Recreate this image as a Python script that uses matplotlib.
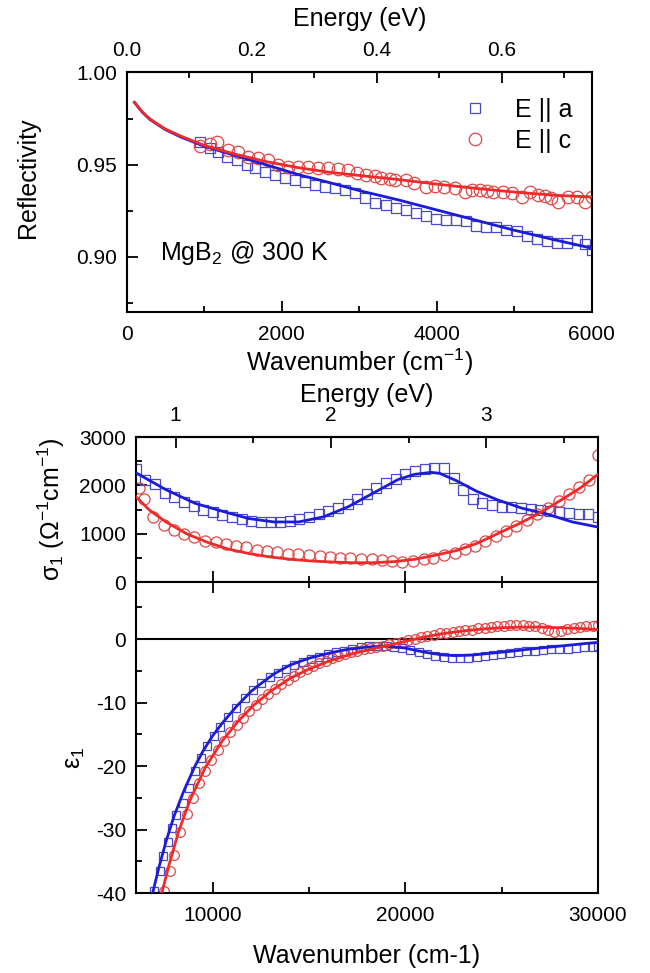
import matplotlib
matplotlib.use("Agg")
import matplotlib.pyplot as plt
from matplotlib.ticker import MultipleLocator, FormatStrFormatter

plt.rcParams.update({
    "font.family": "Liberation Sans",
    "mathtext.fontset": "custom",
    "mathtext.rm": "Liberation Sans",
    "mathtext.it": "Liberation Sans",
    "mathtext.sf": "Liberation Sans",
    "mathtext.bf": "Liberation Sans:bold",
    "axes.unicode_minus": False,
})

CM_PER_EV = 8065.54

# ---- reflectivity, 300 K ----
refl_fit_w_a = [100, 200, 300, 500, 700, 1000, 1400, 1800, 2200, 2600, 3000, 3500,
                4000, 4500, 5000, 5500, 6000]
refl_fit_a = [0.9838, 0.9785, 0.9745, 0.9690, 0.9650, 0.9600, 0.9550, 0.9500, 0.9448,
              0.9405, 0.9360, 0.9310, 0.9255, 0.9200, 0.9145, 0.9095, 0.9048]
refl_fit_w_c = [100, 200, 300, 500, 700, 1000, 1400, 1800, 2200, 2600, 3000, 3500,
                4000, 4500, 5000, 5500, 6000]
refl_fit_c = [0.9838, 0.9787, 0.9748, 0.9693, 0.9655, 0.9605, 0.9557, 0.9517, 0.9485,
              0.9460, 0.9442, 0.9420, 0.9395, 0.9372, 0.9352, 0.9335, 0.9325]

refl_w_a = [946, 1075, 1183, 1290, 1420, 1549, 1657, 1786, 1915, 2044, 2173, 2302, 2431,
            2560, 2689, 2818, 2950, 3080, 3210, 3340, 3470, 3600, 3730, 3860, 3990, 4120,
            4250, 4380, 4510, 4640, 4770, 4900, 5030, 5160, 5290, 5420, 5550, 5680, 5810,
            5920, 6000]
refl_a = [0.9625, 0.9590, 0.9570, 0.9544, 0.9526, 0.9500, 0.9480, 0.9463, 0.9445, 0.9427,
          0.9418, 0.9408, 0.9390, 0.9380, 0.9373, 0.9364, 0.9345, 0.9318, 0.9295, 0.9282,
          0.9268, 0.9255, 0.9240, 0.9220, 0.9205, 0.9200, 0.9198, 0.9195, 0.9168, 0.9165,
          0.9160, 0.9148, 0.9140, 0.9115, 0.9100, 0.9085, 0.9075, 0.9075, 0.9092, 0.9070,
          0.9038]
refl_w_c = [946, 1075, 1161, 1312, 1442, 1571, 1700, 1829, 1958, 2087, 2216, 2345, 2474,
            2603, 2732, 2861, 2966, 3090, 3200, 3284, 3400, 3464, 3600, 3713, 3863, 3980,
            4100, 4238, 4366, 4460, 4560, 4650, 4732, 4850, 4970, 5097, 5205, 5312, 5400,
            5480, 5570, 5699, 5806, 5914, 6000]
refl_c = [0.9600, 0.9610, 0.9625, 0.9580, 0.9570, 0.9544, 0.9535, 0.9526, 0.9500, 0.9490,
          0.9490, 0.9490, 0.9480, 0.9480, 0.9478, 0.9472, 0.9455, 0.9446, 0.9440, 0.9428,
          0.9425, 0.9419, 0.9415, 0.9400, 0.9381, 0.9385, 0.9380, 0.9372, 0.9354, 0.9365,
          0.9363, 0.9360, 0.9354, 0.9350, 0.9348, 0.9327, 0.9354, 0.9336, 0.9330, 0.9320,
          0.9300, 0.9327, 0.9327, 0.9300, 0.9327]

# ---- sigma_1 ----
sig_fit_w_a = [6000, 7571, 9077, 10584, 11875, 13166, 14457, 15749, 17040, 18331, 19622,
               20483, 21343, 21774, 22635, 23711, 24787, 26078, 27369, 28661, 30000]
sig_fit_a = [2263, 1911, 1630, 1455, 1314, 1244, 1244, 1349, 1560, 1841, 2122, 2230, 2270,
             2250, 2100, 1876, 1700, 1525, 1405, 1244, 1138]
sig_fit_w_c = [6000, 6710, 7571, 8647, 9723, 10799, 11875, 12951, 14027, 15103, 16179,
               17255, 18331, 19407, 20483, 21559, 22635, 23711, 24787, 25863, 26939, 28015,
               29091, 30000]
sig_fit_c = [1771, 1490, 1244, 998, 822, 682, 590, 520, 471, 436, 415, 400, 400, 422, 471,
             555, 650, 800, 1000, 1200, 1420, 1680, 1950, 2230]

sig_w_a = [6000, 6500, 7000, 7500, 8000, 8500, 9000, 9500, 10000, 10500, 11000, 11500,
           12000, 12500, 13000, 13500, 14000, 14500, 15000, 15500, 16000, 16500, 17000,
           17500, 18000, 18500, 19000, 19500, 20000, 20500, 21000, 21500, 22000, 22500,
           23000, 23500, 24000, 24500, 25000, 25500, 26000, 26500, 27000, 27500, 28000,
           28500, 29000, 29500, 30000]
sig_a = [2330, 2120, 2020, 1850, 1750, 1650, 1570, 1490, 1440, 1380, 1340, 1300, 1270, 1250,
         1244, 1244, 1260, 1300, 1340, 1400, 1465, 1530, 1620, 1720, 1830, 1940, 2040, 2140,
         2230, 2290, 2330, 2360, 2350, 2150, 1900, 1720, 1640, 1590, 1560, 1550, 1540, 1520,
         1500, 1480, 1450, 1430, 1410, 1400, 1340]
sig_w_c = [6150, 6450, 6900, 7450, 8000, 8500, 9050, 9600, 10150, 10700, 11200, 11750,
           12300, 12800, 13350, 13900, 14450, 15000, 15550, 16100, 16600, 17150, 17700,
           18250, 18800, 19300, 19850, 20400, 20950, 21450, 22000, 22550, 23100, 23600,
           24150, 24700, 25200, 25750, 26300, 26850, 27400, 27950, 28500, 29000, 29550,
           30000]
sig_c = [1950, 1720, 1349, 1174, 1068, 998, 928, 857, 822, 787, 752, 717, 668, 647, 625,
         590, 576, 555, 541, 527, 506, 492, 471, 471, 450, 436, 422, 436, 471, 506, 555, 611,
         682, 752, 850, 950, 1050, 1170, 1290, 1400, 1530, 1680, 1830, 1970, 2120, 2620]

# ---- epsilon_1 ----
eps_fit_w_a = [6880, 7200, 7600, 8000, 8500, 9077, 9500, 10000, 10500, 11230, 12000, 12500,
               13166, 14000, 15000, 16180, 17000, 18000, 19000, 20000, 20500, 21000, 21500,
               22000, 22600, 23500, 24500, 25500, 26500, 27500, 28500, 29300, 30000]
eps_fit_a = [-40.0, -36.0, -31.6, -27.8, -23.9, -20.0, -17.6, -15.2, -13.2, -10.6, -8.2,
             -7.0, -5.5, -4.1, -3.0, -2.1, -1.6, -1.25, -1.1, -1.4, -1.75, -2.05, -2.3,
             -2.5, -2.6, -2.5, -2.2, -1.9, -1.55, -1.25, -0.95, -0.7, -0.5]
eps_fit_w_c = [7356, 7700, 8217, 8800, 9615, 10500, 11300, 12090, 13000, 14000, 15000,
               16000, 17255, 18300, 19300, 20000, 20500, 21000, 22000, 23000, 24000, 25000,
               26000, 27000, 28000, 29000, 30000]
eps_fit_c = [-40.0, -35.9, -30.4, -25.5, -20.2, -16.0, -13.0, -10.5, -8.2, -6.2, -4.7,
             -3.5, -2.3, -1.5, -0.85, -0.35, 0.0, 0.35, 0.9, 1.3, 1.6, 1.8, 1.9, 1.9, 1.8,
             1.7, 1.5]

eps_w_a = [6925, 7250, 7420, 7680, 7900, 8110, 8430, 8750, 9080, 9400, 9720, 10050, 10370,
           10800, 11230, 11660, 12090, 12520, 12950, 13380, 13810, 14240, 14670, 15100,
           15530, 15960, 16390, 16820, 17250, 17680, 18110, 18540, 18970, 19400, 19830,
           20260, 20690, 21120, 21550, 21980, 22410, 22840, 23270, 23700, 24130, 24560,
           24990, 25420, 25850, 26280, 26710, 27140, 27570, 28000, 28430, 28860, 29290,
           29720, 30000]
eps_a = [-39.7, -36.5, -34.2, -32.0, -29.8, -27.7, -25.8, -23.5, -20.8, -18.7, -16.9, -15.3,
         -13.8, -12.2, -10.9, -9.3, -8.0, -6.9, -6.0, -5.3, -4.7, -4.1, -3.6, -3.2, -2.8,
         -2.4, -2.1, -1.8, -1.5, -1.3, -1.15, -1.05, -1.1, -1.2, -1.4, -1.7, -2.0, -2.3,
         -2.6, -2.8, -3.0, -3.0, -2.9, -2.8, -2.7, -2.5, -2.3, -2.2, -2.0, -1.9, -1.8, -1.7,
         -1.6, -1.5, -1.5, -1.4, -1.3, -1.3, -1.1]
eps_w_c = [7460, 7780, 8000, 8320, 8640, 8960, 9280, 9600, 9920, 10250, 10580, 10910, 11240,
           11570, 11900, 12230, 12560, 12890, 13220, 13550, 13880, 14210, 14540, 14870,
           15200, 15530, 15860, 16190, 16520, 16850, 17180, 17510, 17840, 18170, 18500,
           18830, 19160, 19490, 19820, 20150, 20480, 20810, 21140, 21470, 21800, 22130,
           22460, 22790, 23120, 23450, 23780, 24110, 24440, 24770, 25100, 25430, 25760,
           26090, 26420, 26750, 27080, 27410, 27740, 28070, 28400, 28730, 29060, 29390,
           29720, 30000]
eps_c = [-39.7, -36.5, -34.0, -30.4, -27.6, -25.0, -22.7, -20.7, -19.0, -17.4, -16.0, -14.7,
         -13.5, -12.4, -11.3, -10.3, -9.4, -8.6, -7.8, -7.1, -6.4, -5.8, -5.2, -4.7, -4.2,
         -3.8, -3.4, -3.0, -2.7, -2.4, -2.1, -1.8, -1.6, -1.4, -1.2, -1.0, -0.8, -0.6, -0.4,
         -0.2, 0.0, 0.3, 0.5, 0.7, 0.9, 1.0, 1.2, 1.3, 1.4, 1.5, 1.7, 1.8, 1.9, 2.0, 2.1,
         2.2, 2.3, 2.2, 2.1, 2.0, 1.8, 1.5, 1.2, 1.3, 1.6, 1.8, 1.9, 2.0, 2.1, 2.3]

BLUE_LINE = "#1c1cd8"
RED_LINE = "#f02a2a"
BLUE_MK = "#4a4ac8"
RED_MK = "#e04848"
TICK_FS = 15
LABEL_FS = 18


def style_ticks(ax):
    ax.tick_params(which="both", direction="in", labelsize=TICK_FS, width=1.3, pad=7)
    ax.tick_params(which="major", length=8)
    ax.tick_params(which="minor", length=4)
    for s in ax.spines.values():
        s.set_linewidth(1.5)


def energy_axis(ax, major, minor, fmt, lpad):
    sec = ax.secondary_xaxis("top", functions=(lambda w: w / CM_PER_EV, lambda e: e * CM_PER_EV))
    sec.xaxis.set_major_locator(MultipleLocator(major))
    sec.xaxis.set_minor_locator(MultipleLocator(minor))
    sec.xaxis.set_major_formatter(FormatStrFormatter(fmt))
    style_ticks(sec)
    sec.tick_params(which="both", pad=9)
    sec.set_xlabel("Energy (eV)", fontsize=LABEL_FS, labelpad=lpad)
    return sec


fig = plt.figure(figsize=(6.5, 9.73), dpi=100)

# top panel: reflectivity
ax1 = fig.add_axes([0.1949, 0.6790, 0.7154, 0.2465])
ax1.plot(refl_fit_w_a, refl_fit_a, color=BLUE_LINE, lw=2, zorder=3)
ax1.plot(refl_fit_w_c, refl_fit_c, color=RED_LINE, lw=2, zorder=3)
ax1.plot(refl_w_a, refl_a, ls="none", marker="s", ms=7, mfc="none", mec=BLUE_MK, mew=0.9,
         label="E || a")
ax1.plot(refl_w_c, refl_c, ls="none", marker="o", ms=9, mfc="none", mec=RED_MK, mew=0.9,
         label="E || c")
ax1.set_xlim(0, 6000)
ax1.set_ylim(0.87, 1.00)
ax1.xaxis.set_major_locator(MultipleLocator(2000))
ax1.xaxis.set_minor_locator(MultipleLocator(1000))
ax1.yaxis.set_major_locator(MultipleLocator(0.05))
ax1.yaxis.set_minor_locator(MultipleLocator(0.025))
ax1.yaxis.set_major_formatter(FormatStrFormatter("%.2f"))
style_ticks(ax1)
ax1.tick_params(axis="x", which="both", top=False, pad=9)
ax1.set_xlabel("Wavenumber (cm$^{-1}$)", fontsize=LABEL_FS, labelpad=2)
ax1.set_ylabel("Reflectivity", fontsize=LABEL_FS)
ax1.yaxis.set_label_coords(-0.187, 0.56)
ax1.text(0.072, 0.247, "MgB$_2$ @ 300 K", transform=ax1.transAxes, fontsize=LABEL_FS,
         va="center", ha="left")
ax1.legend(loc="upper left", bbox_to_anchor=(0.723, 0.895), frameon=False, fontsize=LABEL_FS,
           handlelength=1.0, handletextpad=1.1, labelspacing=0.3, borderpad=0,
           borderaxespad=0)
energy_axis(ax1, 0.2, 0.1, "%.1f", 11)

# middle panel: sigma_1
ax2 = fig.add_axes([0.2088, 0.4018, 0.7112, 0.1490])
ax2.plot(sig_fit_w_a, sig_fit_a, color=BLUE_LINE, lw=2, zorder=3)
ax2.plot(sig_fit_w_c, sig_fit_c, color=RED_LINE, lw=2, zorder=3)
ax2.plot(sig_w_a, sig_a, ls="none", marker="s", ms=7, mfc="none", mec=BLUE_MK, mew=0.9)
ax2.plot(sig_w_c, sig_c, ls="none", marker="o", ms=8, mfc="none", mec=RED_MK, mew=0.9)
ax2.set_xlim(6000, 30000)
ax2.set_ylim(0, 3000)
ax2.xaxis.set_major_locator(MultipleLocator(10000))
ax2.xaxis.set_minor_locator(MultipleLocator(5000))
ax2.yaxis.set_major_locator(MultipleLocator(1000))
ax2.yaxis.set_minor_locator(MultipleLocator(500))
style_ticks(ax2)
ax2.tick_params(axis="x", which="both", top=False, labelbottom=False)
ax2.set_ylabel(r"$\sigma_1$ ($\Omega^{-1}$cm$^{-1}$)", fontsize=LABEL_FS)
ax2.yaxis.set_label_coords(-0.148, 0.5)
energy_axis(ax2, 1, 0.5, "%d", 2.5)

# bottom panel: epsilon_1
ax3 = fig.add_axes([0.2088, 0.0822, 0.7112, 0.3196])
ax3.axhline(0, color="black", lw=1.5, zorder=1)
ax3.plot(eps_fit_w_a, eps_fit_a, color=BLUE_LINE, lw=2, zorder=3)
ax3.plot(eps_fit_w_c, eps_fit_c, color=RED_LINE, lw=2, zorder=3)
ax3.plot(eps_w_a, eps_a, ls="none", marker="s", ms=6, mfc="none", mec=BLUE_MK, mew=0.9)
ax3.plot(eps_w_c, eps_c, ls="none", marker="o", ms=7, mfc="none", mec=RED_MK, mew=0.9)
ax3.set_xlim(6000, 30000)
ax3.set_ylim(-40, 9)
ax3.xaxis.set_major_locator(MultipleLocator(10000))
ax3.xaxis.set_minor_locator(MultipleLocator(5000))
ax3.yaxis.set_major_locator(MultipleLocator(10))
ax3.yaxis.set_minor_locator(MultipleLocator(5))
style_ticks(ax3)
ax3.tick_params(axis="x", which="both", top=True, pad=9)
ax3.tick_params(axis="y", which="both", right=False)
ax3.set_xlabel("Wavenumber (cm-1)", fontsize=LABEL_FS, labelpad=14)
ax3.set_ylabel(r"$\varepsilon_1$", fontsize=LABEL_FS)
ax3.yaxis.set_label_coords(-0.105, 0.434)

for ax in (ax1, ax2):
    ax.tick_params(axis="y", which="both", right=False)

fig.savefig("out.png", dpi=100)
